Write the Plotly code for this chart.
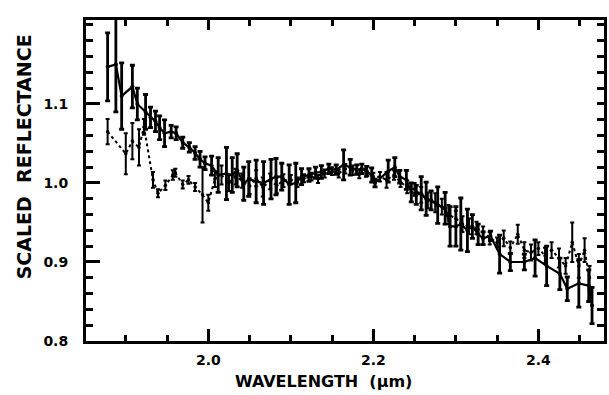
import plotly.graph_objects as go

# Series A (solid line, large error bars)
wl_a = [1.878, 1.888, 1.895, 1.908, 1.914, 1.924, 1.930, 1.936, 1.941, 1.947,
        1.955, 1.961, 1.969, 1.977, 1.984, 1.990, 1.996, 2.004, 2.012, 2.022,
        2.029, 2.035, 2.043, 2.049, 2.058, 2.067, 2.076, 2.082, 2.089, 2.098,
        2.106, 2.113, 2.122, 2.130, 2.137, 2.146, 2.155, 2.164, 2.172, 2.180,
        2.186, 2.192, 2.198, 2.202, 2.218, 2.226, 2.232, 2.240, 2.246, 2.252,
        2.258, 2.264, 2.270, 2.278, 2.287, 2.293, 2.300, 2.306, 2.314, 2.320,
        2.327, 2.333, 2.342, 2.353, 2.366, 2.383, 2.396, 2.410, 2.426, 2.435,
        2.449, 2.461, 2.465]
refl_a = [1.147, 1.150, 1.110, 1.122, 1.100, 1.090, 1.083, 1.078, 1.070, 1.063,
          1.065, 1.063, 1.051, 1.045, 1.038, 1.030, 1.025, 1.022, 1.010, 1.012,
          1.010, 1.016, 0.999, 1.005, 1.002, 1.000, 1.005, 1.008, 1.008, 0.998,
          1.000, 1.008, 1.010, 1.013, 1.014, 1.018, 1.017, 1.023, 1.020, 1.017,
          1.018, 1.015, 1.010, 1.000, 1.015, 1.020, 1.008, 1.004, 0.988, 0.985,
          0.987, 0.980, 0.978, 0.972, 0.968, 0.945, 0.945, 0.948, 0.940, 0.945,
          0.935, 0.930, 0.933, 0.910, 0.900, 0.900, 0.905, 0.895, 0.885, 0.866,
          0.873, 0.870, 0.845]
err_a = [0.043, 0.060, 0.042, 0.027, 0.020, 0.022, 0.013, 0.013, 0.015, 0.017,
         0.008, 0.008, 0.007, 0.006, 0.008, 0.010, 0.008, 0.012, 0.022, 0.033,
         0.022, 0.021, 0.021, 0.022, 0.027, 0.027, 0.025, 0.023, 0.017, 0.025,
         0.025, 0.010, 0.008, 0.007, 0.008, 0.006, 0.006, 0.019, 0.010, 0.006,
         0.006, 0.006, 0.009, 0.005, 0.014, 0.012, 0.008, 0.012, 0.012, 0.012,
         0.021, 0.021, 0.012, 0.023, 0.020, 0.025, 0.025, 0.033, 0.027, 0.015,
         0.013, 0.008, 0.006, 0.024, 0.011, 0.010, 0.023, 0.025, 0.020, 0.015,
         0.030, 0.020, 0.023]

# Series B (dotted line, smaller error bars)
wl_b = [1.878, 1.900, 1.908, 1.916, 1.922, 1.933, 1.939, 1.948, 1.957, 1.960,
        1.969, 1.976, 1.984, 1.993, 2.000, 2.008, 2.016, 2.025, 2.033, 2.041,
        2.050, 2.058, 2.066, 2.075, 2.083, 2.091, 2.100, 2.108, 2.116, 2.125,
        2.133, 2.141, 2.150, 2.158, 2.166, 2.175, 2.183, 2.191, 2.200, 2.208,
        2.216, 2.225, 2.233, 2.241, 2.250, 2.258, 2.266, 2.275, 2.283, 2.291,
        2.300, 2.308, 2.316, 2.325, 2.333, 2.341, 2.350, 2.358, 2.366, 2.375,
        2.383, 2.391, 2.400, 2.408, 2.416, 2.425, 2.433, 2.441, 2.449, 2.456,
        2.462]
refl_b = [1.065, 1.037, 1.053, 1.045, 1.071, 1.004, 0.987, 0.997, 1.010, 1.013,
          0.998, 1.004, 0.995, 0.985, 0.975, 1.005, 1.010, 1.000, 1.008, 1.003,
          0.996, 1.006, 0.995, 1.002, 0.997, 1.003, 1.004, 1.001, 1.006, 1.008,
          1.005, 1.012, 1.015, 1.012, 1.018, 1.016, 1.011, 1.013, 1.008, 1.008,
          1.004, 1.010, 1.001, 0.995, 0.992, 0.985, 0.978, 0.975, 0.970, 0.960,
          0.955, 0.948, 0.945, 0.943, 0.938, 0.930, 0.925, 0.930, 0.918, 0.935,
          0.915, 0.912, 0.917, 0.908, 0.915, 0.905, 0.895, 0.925, 0.895, 0.915,
          0.880]
err_b = [0.016, 0.026, 0.023, 0.023, 0.010, 0.010, 0.005, 0.006, 0.006, 0.005,
         0.005, 0.005, 0.005, 0.035, 0.010, 0.010, 0.012, 0.010, 0.010, 0.009,
         0.010, 0.010, 0.012, 0.010, 0.010, 0.008, 0.006, 0.006, 0.005, 0.005,
         0.005, 0.005, 0.005, 0.005, 0.006, 0.006, 0.005, 0.005, 0.005, 0.006,
         0.010, 0.006, 0.006, 0.008, 0.008, 0.010, 0.010, 0.012, 0.010, 0.012,
         0.010, 0.010, 0.010, 0.008, 0.007, 0.008, 0.006, 0.010, 0.008, 0.012,
         0.010, 0.010, 0.008, 0.010, 0.010, 0.012, 0.010, 0.025, 0.015, 0.015,
         0.015]

y_tickvals = [0.8, 0.9, 1.0, 1.1]
y_ticktext = ["0.8", "0.9", "1.0", "1.1"]
x_tickvals = [2.0, 2.2, 2.4]
x_ticktext = ["2.0", "2.2", "2.4"]

X_RANGE = [1.8518, 2.4795]
Y_RANGE = [0.8, 1.2063]

FONT = "DejaVu Sans"
TICK_COLOR = "black"

fig = go.Figure()
fig.add_trace(go.Scatter(
    x=wl_a, y=refl_a, mode="lines+markers",
    line=dict(color="black", width=2.2),
    marker=dict(color="black", size=4),
    error_y=dict(type="data", array=err_a, color="black", thickness=2.8, width=2.5),
))
fig.add_trace(go.Scatter(
    x=wl_b, y=refl_b, mode="lines+markers",
    line=dict(color="black", width=2, dash="dot"),
    marker=dict(color="black", size=3.5),
    error_y=dict(type="data", array=err_b, color="black", thickness=2, width=2),
))
# same data on the mirrored (top/right) axes so their tick marks are drawn
fig.add_trace(go.Scatter(
    x=wl_a, y=refl_a, mode="lines", line=dict(color="rgba(0,0,0,0)", width=0),
    xaxis="x2", yaxis="y2", hoverinfo="skip",
))

tick_common = dict(ticks="inside", tickwidth=2.5, tickcolor=TICK_COLOR,
                   showgrid=False, zeroline=False)
minor_x = dict(dtick=0.05, tick0=0, ticks="inside", ticklen=6,
               tickwidth=2.5, tickcolor=TICK_COLOR, showgrid=False)
minor_y = dict(dtick=0.02, tick0=0, ticks="inside", ticklen=7,
               tickwidth=2.5, tickcolor=TICK_COLOR, showgrid=False)

fig.update_layout(
    width=609, height=395,
    margin=dict(l=86, r=2, t=20, b=54),
    paper_bgcolor="white", plot_bgcolor="white",
    showlegend=False,
    font=dict(family=FONT, color="black"),
    xaxis=dict(
        range=X_RANGE, showline=True, linecolor="black", linewidth=3, mirror=True,
        ticklen=12, tickvals=x_tickvals, ticktext=x_ticktext,
        tickfont=dict(family=FONT, size=14, color="black", weight="bold"),
        ticklabelstandoff=4, minor=minor_x, **tick_common,
    ),
    yaxis=dict(
        range=Y_RANGE, showline=True, linecolor="black", linewidth=3, mirror=True,
        ticklen=14, tickvals=y_tickvals, ticktext=y_ticktext,
        tickfont=dict(family=FONT, size=14, color="black", weight="bold"),
        ticklabelstandoff=12, minor=minor_y, **tick_common,
    ),
    xaxis2=dict(
        range=X_RANGE, overlaying="x", side="top", anchor="y2",
        showline=False, showticklabels=False, ticklen=10, tickvals=x_tickvals,
        minor=minor_x, **tick_common,
    ),
    yaxis2=dict(
        range=Y_RANGE, overlaying="y", side="right", anchor="x2",
        showline=False, showticklabels=False, ticklen=7, tickvals=y_tickvals,
        minor=minor_y, **tick_common,
    ),
    annotations=[
        dict(text="WAVELENGTH  (µm)", xref="paper", yref="paper",
             x=(325 - 86) / 521, y=-(382 - 341) / 321, showarrow=False,
             xanchor="center", yanchor="middle",
             font=dict(family=FONT, size=16, color="black", weight="bold")),
        dict(text="SCALED  REFLECTANCE", xref="paper", yref="paper",
             x=-(86 - 24) / 521, y=(341 - 157) / 321, showarrow=False,
             textangle=-90, xanchor="center", yanchor="middle",
             font=dict(family=FONT, size=19, color="black", weight="bold")),
    ],
)

fig.write_html("out.html", config={"displayModeBar": False},
               post_script="document.body.style.margin='0px';")
